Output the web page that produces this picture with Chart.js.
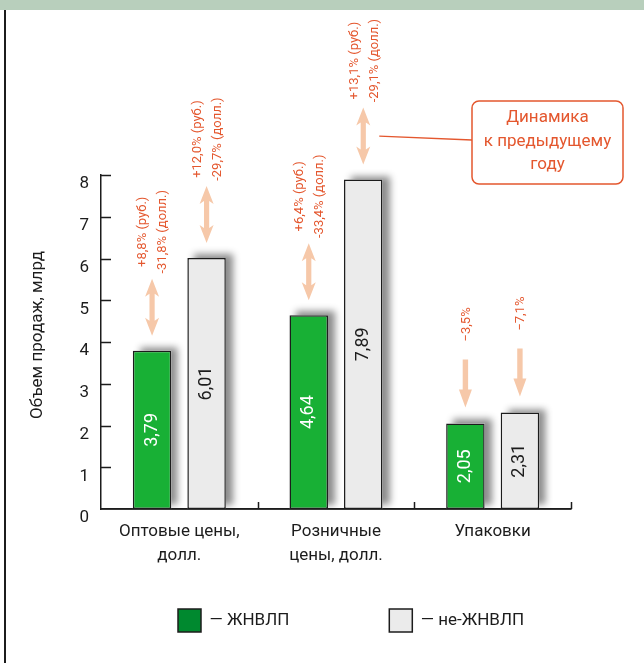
<!DOCTYPE html>
<html lang="ru">
<head>
<meta charset="utf-8">
<title>Объем продаж</title>
<script src="https://cdn.jsdelivr.net/npm/chart.js@4.4.1/dist/chart.umd.min.js"></script>
<style>
  html, body { margin: 0; padding: 0; background: #fff; overflow: hidden; }
  #wrap { position: relative; width: 644px; height: 663px; }
</style>
</head>
<body>
<div id="wrap"><canvas id="chart"></canvas></div>
<script>
const CATEGORIES   = [['Оптовые цены,', 'долл.'], ['Розничные', 'цены, долл.'], 'Упаковки'];
const SERIES_NAMES = ['ЖНВЛП', 'не-ЖНВЛП'];
const JNVLP        = [3.79, 4.64, 2.05];
const NON_JNVLP    = [6.01, 7.89, 2.31];
const Y_MIN = 0, Y_MAX = 8, Y_STEP = 1;
const Y_TITLE      = 'Объем продаж, млрд';
// динамика к предыдущему году (над каждым столбцом)
const NOTES_JNVLP  = [['+8,8% (руб.)', '-31,8% (долл.)'], ['+6,4% (руб.)', '-33,4% (долл.)'], ['−3,5%']];
const NOTES_NON    = [['+12,0% (руб.)', '-29,7% (долл.)'], ['+13,1% (руб.)', '-29,1% (долл.)'], ['−7,1%']];
const ARROWS       = ['both', 'both', 'down'];
const CALLOUT      = ['Динамика', 'к предыдущему', 'году'];

const INK   = '#1c1c1c';
const RED   = '#e4572e';
const PEACH = '#f6c8a9';
const FONT  = 'Roboto, "Noto Sans", sans-serif';
Chart.defaults.font.family = FONT;

function vtext(ctx, text, x, y, font, color) {
  ctx.save();
  ctx.translate(x, y);
  ctx.rotate(-Math.PI / 2);
  ctx.font = font;
  ctx.fillStyle = color;
  ctx.textAlign = 'center';
  ctx.textBaseline = 'middle';
  ctx.fillText(text, 0, 0);
  ctx.restore();
}

function bothArrow(ctx, x, y1, y2) {
  const hl = 18, hw = 7, sw = 2.6;
  ctx.beginPath();
  ctx.moveTo(x, y1);
  ctx.lineTo(x + hw, y1 + hl);
  ctx.lineTo(x + sw, y1 + hl - 3);
  ctx.lineTo(x + sw, y2 - hl + 3);
  ctx.lineTo(x + hw, y2 - hl);
  ctx.lineTo(x, y2);
  ctx.lineTo(x - hw, y2 - hl);
  ctx.lineTo(x - sw, y2 - hl + 3);
  ctx.lineTo(x - sw, y1 + hl - 3);
  ctx.lineTo(x - hw, y1 + hl);
  ctx.closePath();
  ctx.fill();
}

function downArrow(ctx, x, y1, y2) {
  const hl = 18, hw = 6.5, sw = 2.7;
  ctx.beginPath();
  ctx.moveTo(x - sw, y1);
  ctx.lineTo(x + sw, y1);
  ctx.lineTo(x + sw, y2 - hl);
  ctx.lineTo(x + hw, y2 - hl);
  ctx.lineTo(x, y2);
  ctx.lineTo(x - hw, y2 - hl);
  ctx.lineTo(x - sw, y2 - hl);
  ctx.closePath();
  ctx.fill();
}

// фон, зелёная полоса сверху, рамка слева
const framePlugin = {
  id: 'frame',
  beforeDraw(chart) {
    const { ctx, width, height } = chart;
    ctx.save();
    ctx.fillStyle = '#fff';
    ctx.fillRect(0, 0, width, height);
    ctx.fillStyle = '#b8cfbc';
    ctx.fillRect(0, 0, width, 10);
    ctx.strokeStyle = INK;
    ctx.lineWidth = 2;
    ctx.beginPath();
    ctx.moveTo(5, 10);
    ctx.lineTo(5, height);
    ctx.stroke();
    // подпись оси Y
    const ys = chart.scales.y;
    vtext(ctx, Y_TITLE, chart.chartArea.left - 63, (ys.getPixelForValue(Y_MAX) + ys.getPixelForValue(Y_MIN)) / 2 - 7, '17px ' + FONT, INK);
    ctx.restore();
  }
};

// тень столбцов (рисуется под ними)
const shadowPlugin = {
  id: 'barShadow',
  beforeDatasetsDraw(chart) {
    const ctx = chart.ctx;
    const base = chart.scales.y.getPixelForValue(0);
    ctx.save();
    ctx.beginPath();
    ctx.rect(0, 0, chart.width, base);
    ctx.clip();
    ctx.shadowColor = 'rgba(0,0,0,0.45)';
    ctx.shadowBlur = 7;
    ctx.shadowOffsetX = 7;
    ctx.shadowOffsetY = -4;
    ctx.fillStyle = '#fff';
    chart.data.datasets.forEach((ds, di) => {
      chart.getDatasetMeta(di).data.forEach(bar => {
        const { x, y, base: b, width } = bar.getProps(['x', 'y', 'base', 'width'], true);
        ctx.fillRect(x - width / 2, y, width, b - y);
      });
    });
    ctx.restore();
  }
};

// засечки внутрь и базовая линия
const axisPlugin = {
  id: 'axisMarks',
  afterDatasetsDraw(chart) {
    const { ctx, chartArea } = chart;
    const ys = chart.scales.y, xs = chart.scales.x;
    const base = ys.getPixelForValue(0);
    ctx.save();
    ctx.strokeStyle = INK;
    ctx.lineWidth = 1.5;
    ctx.beginPath();
    ctx.moveTo(chartArea.left, base);
    ctx.lineTo(chartArea.right, base);
    for (let v = Y_MIN + Y_STEP; v <= Y_MAX; v += Y_STEP) {
      const py = Math.round(ys.getPixelForValue(v)) + 0.5;
      ctx.moveTo(chartArea.left, py);
      ctx.lineTo(chartArea.left + 10, py);
    }
    for (let i = 0; i < CATEGORIES.length; i++) {
      const px = Math.round(xs.getPixelForValue(i + 0.5)) + 0.5;
      ctx.moveTo(px, base);
      ctx.lineTo(px, base - 7);
    }
    ctx.stroke();
    ctx.restore();
  }
};

// значения в столбцах, стрелки, проценты, выноска
const notesPlugin = {
  id: 'notes',
  afterDatasetsDraw(chart) {
    const ctx = chart.ctx;
    ctx.save();
    [NOTES_JNVLP, NOTES_NON].forEach((notes, di) => {
      const ds = chart.data.datasets[di];
      chart.getDatasetMeta(di).data.forEach((bar, i) => {
        const x = bar.x, top = bar.y;
        vtext(ctx, ds.data[i].toFixed(2).replace('.', ','), x, (bar.y + bar.base) / 2,
              '18px ' + FONT, di === 0 ? '#fff' : INK);
        ctx.fillStyle = PEACH;
        let textY;
        if (ARROWS[i] === 'both') {
          const y2 = top - 15, y1 = y2 - 57;
          bothArrow(ctx, x, y1, y2);
          textY = y1 - 47;
          if (di === 1 && i === 1) {
            // линия к выноске
            ctx.strokeStyle = RED;
            ctx.lineWidth = 1.3;
            ctx.beginPath();
            ctx.moveTo(x + 16, (y1 + y2) / 2);
            ctx.lineTo(472, 140);
            ctx.stroke();
          }
        } else {
          const y2 = top - 16, y1 = y2 - 48;
          downArrow(ctx, x, y1, y2);
          textY = y1 - 35;
        }
        const lines = notes[i];
        lines.forEach((t, k) => {
          const dx = lines.length === 1 ? 1 : (k === 0 ? -9 : 11);
          vtext(ctx, t, x + dx, textY, '13px ' + FONT, RED);
        });
      });
    });

    const bx = 472, by = 101, bw = 151, bh = 83;
    ctx.fillStyle = '#fff';
    ctx.strokeStyle = RED;
    ctx.lineWidth = 1.5;
    ctx.beginPath();
    ctx.roundRect(bx, by, bw, bh, 7);
    ctx.fill();
    ctx.stroke();
    ctx.fillStyle = RED;
    ctx.font = '17px ' + FONT;
    ctx.textAlign = 'center';
    ctx.textBaseline = 'middle';
    CALLOUT.forEach((t, k) => ctx.fillText(t, bx + bw / 2, by + 17 + k * 23.5));
    ctx.restore();
  }
};

const LEGEND_FILLS = ['#00892f', '#ebebeb'];

new Chart(document.getElementById('chart'), {
  type: 'bar',
  data: {
    labels: CATEGORIES,
    datasets: [
      { label: SERIES_NAMES[0], data: JNVLP, backgroundColor: '#18b035', borderColor: INK, borderWidth: 1.5, borderSkipped: false },
      { label: SERIES_NAMES[1], data: NON_JNVLP, backgroundColor: '#ebebeb', borderColor: INK, borderWidth: 1.5, borderSkipped: false }
    ]
  },
  options: {
    responsive: true,
    maintainAspectRatio: false,
    animation: false,
    layout: { padding: { left: 78, right: 0, top: 175, bottom: 21 } },
    datasets: { bar: { categoryPercentage: 0.696, barPercentage: 0.706 } },
    scales: {
      x: {
        position: { y: 0 },
        offset: true,
        grid: { display: false, drawTicks: false },
        border: { color: INK, width: 1.5 },
        ticks: { color: INK, padding: 10, maxRotation: 0, autoSkip: false, font: { size: 17, lineHeight: 1.45 } }
      },
      y: {
        min: Y_MIN, max: Y_MAX,
        afterFit(s) { s.width = 23; },
        grid: { display: false, drawTicks: false },
        border: { color: INK, width: 1.5 },
        ticks: { stepSize: Y_STEP, color: INK, padding: 12, labelOffset: 9, font: { size: 17 } }
      },
      yr: {
        position: 'right',
        afterFit(s) { s.width = 73; },
        grid: { display: false },
        border: { display: false },
        ticks: { display: false }
      }
    },
    plugins: {
      tooltip: { enabled: false },
      legend: {
        position: 'bottom',
        align: 'start',
        labels: {
          boxWidth: 23, boxHeight: 23, padding: 100, color: INK, font: { size: 17 },
          generateLabels: chart => chart.data.datasets.map((ds, i) => ({
            text: '— ' + ds.label,
            fillStyle: LEGEND_FILLS[i],
            strokeStyle: INK,
            lineWidth: 1.5,
            fontColor: INK,
            hidden: false,
            datasetIndex: i
          }))
        }
      }
    }
  },
  plugins: [framePlugin, shadowPlugin, axisPlugin, notesPlugin]
});
</script>
</body>
</html>
